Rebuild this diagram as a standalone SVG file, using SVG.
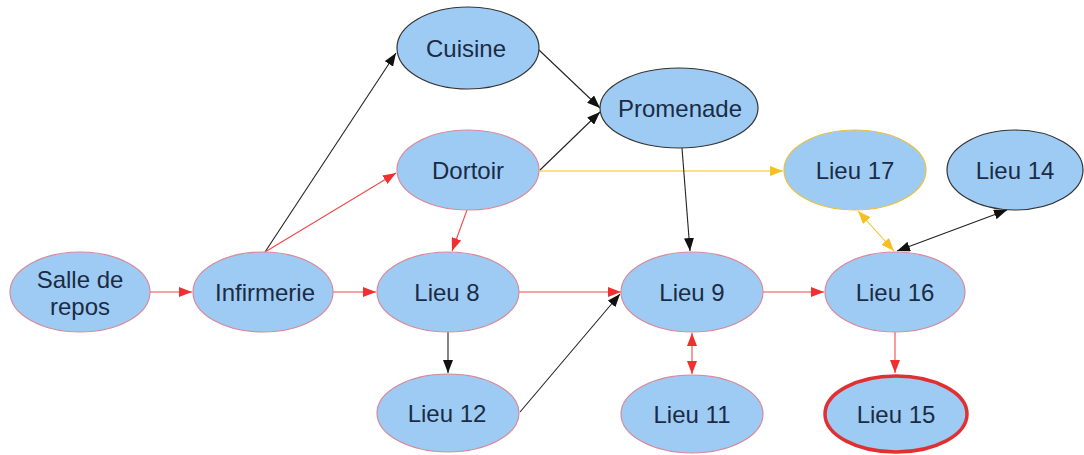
<svg xmlns="http://www.w3.org/2000/svg" width="1084" height="455" viewBox="0 0 1084 455">
<style>
.n ellipse{fill:#9dcbf4;stroke:#d88a9a;stroke-width:1.2}
.n.dk ellipse{stroke:#333}
.n.yl ellipse{stroke:#e8c040}
.n.end ellipse{stroke:#e03030;stroke-width:3.5}
.n text{font-family:"Liberation Sans",Arial,sans-serif;font-size:24px;fill:#1c2b44;text-anchor:middle;dominant-baseline:central}
.e{fill:none;stroke-width:1.1}
.r{stroke:#f04848}
.k{stroke:#222}
.y{stroke:#f5c020}
</style>
<defs>
<marker id="mr" viewBox="0 0 13 10" refX="13" refY="5" markerWidth="13" markerHeight="10" markerUnits="userSpaceOnUse" orient="auto-start-reverse"><path d="M0,0 L13,5 L0,10 z" fill="#f03030"/></marker>
<marker id="mk" viewBox="0 0 13 10" refX="13" refY="5" markerWidth="13" markerHeight="10" markerUnits="userSpaceOnUse" orient="auto-start-reverse"><path d="M0,0 L13,5 L0,10 z" fill="#111"/></marker>
<marker id="my" viewBox="0 0 13 10" refX="13" refY="5" markerWidth="13" markerHeight="10" markerUnits="userSpaceOnUse" orient="auto-start-reverse"><path d="M0,0 L13,5 L0,10 z" fill="#f5c020"/></marker>
</defs>
<rect width="1084" height="455" fill="#fff"/>
<g id="connectors">
<line class="e r" x1="150" y1="292" x2="192" y2="292" marker-end="url(#mr)"/>
<line class="e r" x1="333" y1="292" x2="376" y2="292" marker-end="url(#mr)"/>
<line class="e k" x1="265" y1="252" x2="396" y2="53" marker-end="url(#mk)"/>
<line class="e r" x1="265" y1="252" x2="396" y2="173" marker-end="url(#mr)"/>
<line class="e k" x1="539" y1="50" x2="600" y2="108" marker-end="url(#mk)"/>
<line class="e k" x1="540" y1="170" x2="600" y2="112" marker-end="url(#mk)"/>
<line class="e y" x1="539" y1="171" x2="783" y2="171" marker-end="url(#my)"/>
<line class="e r" x1="467" y1="210" x2="452" y2="251" marker-end="url(#mr)"/>
<line class="e k" x1="682" y1="148" x2="690" y2="251" marker-end="url(#mk)"/>
<line class="e r" x1="519" y1="292" x2="621" y2="292" marker-end="url(#mr)"/>
<line class="e k" x1="520" y1="412" x2="620" y2="294" marker-end="url(#mk)"/>
<line class="e k" x1="448" y1="332" x2="448" y2="373" marker-end="url(#mk)"/>
<line class="e r" x1="692" y1="333" x2="692" y2="374" marker-start="url(#mr)" marker-end="url(#mr)"/>
<line class="e r" x1="763" y1="292" x2="824" y2="292" marker-end="url(#mr)"/>
<line class="e r" x1="895" y1="332" x2="895" y2="373" marker-end="url(#mr)"/>
<line class="e y" x1="858" y1="211" x2="894" y2="251" marker-start="url(#my)" marker-end="url(#my)"/>
<line class="e k" x1="897" y1="251" x2="1007" y2="210" marker-start="url(#mk)" marker-end="url(#mk)"/>
</g>
<g id="salle" class="n"><ellipse cx="80" cy="292" rx="70" ry="40"/><text x="80" y="279">Salle de</text><text x="80" y="306">repos</text></g>
<g id="infirmerie" class="n"><ellipse cx="263" cy="292" rx="70" ry="40"/><text x="265" y="292">Infirmerie</text></g>
<g id="cuisine" class="n dk"><ellipse cx="468" cy="48" rx="71" ry="41"/><text x="466" y="48">Cuisine</text></g>
<g id="dortoir" class="n"><ellipse cx="468" cy="170" rx="71" ry="40"/><text x="468" y="170">Dortoir</text></g>
<g id="promenade" class="n dk"><ellipse cx="679" cy="108" rx="79" ry="40"/><text x="680" y="108">Promenade</text></g>
<g id="lieu8" class="n"><ellipse cx="448" cy="292" rx="71" ry="40"/><text x="447" y="292">Lieu 8</text></g>
<g id="lieu12" class="n"><ellipse cx="448" cy="413" rx="71" ry="39"/><text x="447" y="413">Lieu 12</text></g>
<g id="lieu9" class="n"><ellipse cx="692" cy="292" rx="71" ry="40"/><text x="692" y="292">Lieu 9</text></g>
<g id="lieu11" class="n"><ellipse cx="692" cy="414" rx="71" ry="39"/><text x="692" y="414">Lieu 11</text></g>
<g id="lieu17" class="n yl"><ellipse cx="855" cy="170" rx="71" ry="40"/><text x="855" y="170">Lieu 17</text></g>
<g id="lieu14" class="n dk"><ellipse cx="1015" cy="170" rx="68" ry="40"/><text x="1015" y="170">Lieu 14</text></g>
<g id="lieu16" class="n"><ellipse cx="895" cy="292" rx="70" ry="40"/><text x="895" y="292">Lieu 16</text></g>
<g id="lieu15" class="n end"><ellipse cx="896" cy="414" rx="71" ry="38"/><text x="896" y="414">Lieu 15</text></g>
</svg>
